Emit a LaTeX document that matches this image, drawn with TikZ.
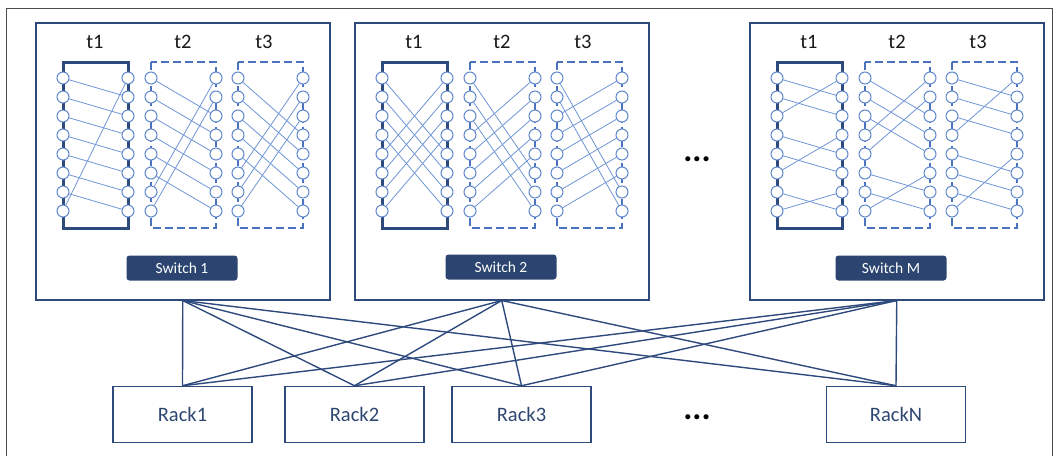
\documentclass[tikz,border=0pt]{standalone}
\usepackage{fontspec}
\setmainfont{Carlito}
\definecolor{navy}{HTML}{2E4A7D}
\definecolor{tagfill}{HTML}{2B4570}
\definecolor{dashblue}{HTML}{4A72BE}
\definecolor{wireblue}{HTML}{6E95D6}
\definecolor{portblue}{HTML}{5F88CC}
\definecolor{racktext}{HTML}{2F4670}
\tikzset{
  frame/.style={draw=black!70, line width=0.8pt},
  switchbox/.style={draw=navy, line width=1.5pt, minimum width=294pt, minimum height=277pt, anchor=north west, inner sep=0pt},
  swtag/.style={fill=tagfill, rounded corners=3pt, minimum width=111pt, minimum height=25pt, text=white, font=\fontsize{15.5}{18}\selectfont, inner sep=0pt},
  rackbox/.style={draw=navy, line width=1.5pt, minimum width=139pt, minimum height=56pt, text=racktext, font=\fontsize{20.5}{24}\selectfont, inner sep=0pt},
  tlabel/.style={text=black!90, font=\fontsize{20.5}{24}\selectfont, inner sep=0pt},
  solidpanel/.style={draw=navy, line width=3pt},
  dashpanel/.style={draw=dashblue, line width=2.6pt, dash pattern=on 8pt off 4pt},
  port/.style={circle, draw=portblue, fill=white, line width=1pt, minimum size=12pt, inner sep=0pt},
  wire/.style={draw=wireblue, line width=0.8pt},
  link/.style={draw=navy, line width=1.4pt},
  dots/.style={font=\fontsize{34}{36}\selectfont\bfseries, text=black, inner sep=0pt}
}
% #1 name prefix, #2 left x of the panel, #3 frame style, #4 right port reached from each left port
\newcommand\permpanel[4]{%
  \draw[#3] (#2,62) rectangle ({#2+65},228);
  \foreach \i in {1,...,8} {
    \node[port] (#1L\i) at (#2,{59+19*\i}) {};
    \node[port] (#1R\i) at ({#2+65},{59+19*\i}) {};
  }
  \foreach \r [count=\i] in {#4} {
    \draw[wire] (#1L\i) -- (#1R\r);
  }
}
\begin{document}
\begin{tikzpicture}[x=1pt,y=-1pt]
\useasboundingbox (0,0) rectangle (1060,456);
\draw[frame] (6,456) -- (6,8) -- (1052,8) -- (1052,456);

% switches
\node[switchbox] (sw1) at (35,22) {};
\node[switchbox] (sw2) at (354,22) {};
\node[switchbox] (swM) at (749,22) {};

% slot labels
\foreach \X in {35,354,749} {
  \node[tlabel] at ({\X+60},42) {t1};
  \node[tlabel] at ({\X+148},42) {t2};
  \node[tlabel] at ({\X+229},42) {t3};
}

% switch 1
\permpanel{a1}{63}{solidpanel}{2,3,4,5,6,7,8,1}
\permpanel{a2}{151}{dashpanel}{3,4,5,6,7,8,1,2}
\permpanel{a3}{238}{dashpanel}{4,5,6,7,8,1,2,3}
% switch 2
\permpanel{b1}{382}{solidpanel}{5,6,7,8,1,2,3,4}
\permpanel{b2}{470}{dashpanel}{6,7,8,1,2,3,4,5}
\permpanel{b3}{557}{dashpanel}{7,8,1,2,3,4,5,6}
% switch M
\permpanel{c1}{777}{solidpanel}{2,3,1,5,6,4,8,7}
\permpanel{c2}{865}{dashpanel}{3,4,5,1,2,7,8,6}
\permpanel{c3}{952}{dashpanel}{2,3,4,1,6,7,8,5}

\node[swtag] (tag1) at (182,268) {Switch 1};
\node[swtag] (tag2) at (501,267) {Switch 2};
\node[swtag] (tagM) at (891,268) {Switch M};

\node[dots] (dotsA) at (697,159) {...};

% racks
\node[rackbox] (r1) at (182.5,414.5) {Rack1};
\node[rackbox] (r2) at (354.5,414.5) {Rack2};
\node[rackbox] (r3) at (521.5,414.5) {Rack3};
\node[rackbox] (rN) at (896,414.5) {RackN};
\node[dots] (dotsB) at (697,417) {...};

% every switch is linked to every rack
\foreach \s in {sw1,sw2,swM} {
  \foreach \r in {r1,r2,r3,rN} {
    \draw[link] (\s.south) -- (\r.north);
  }
}
\end{tikzpicture}
\end{document}
